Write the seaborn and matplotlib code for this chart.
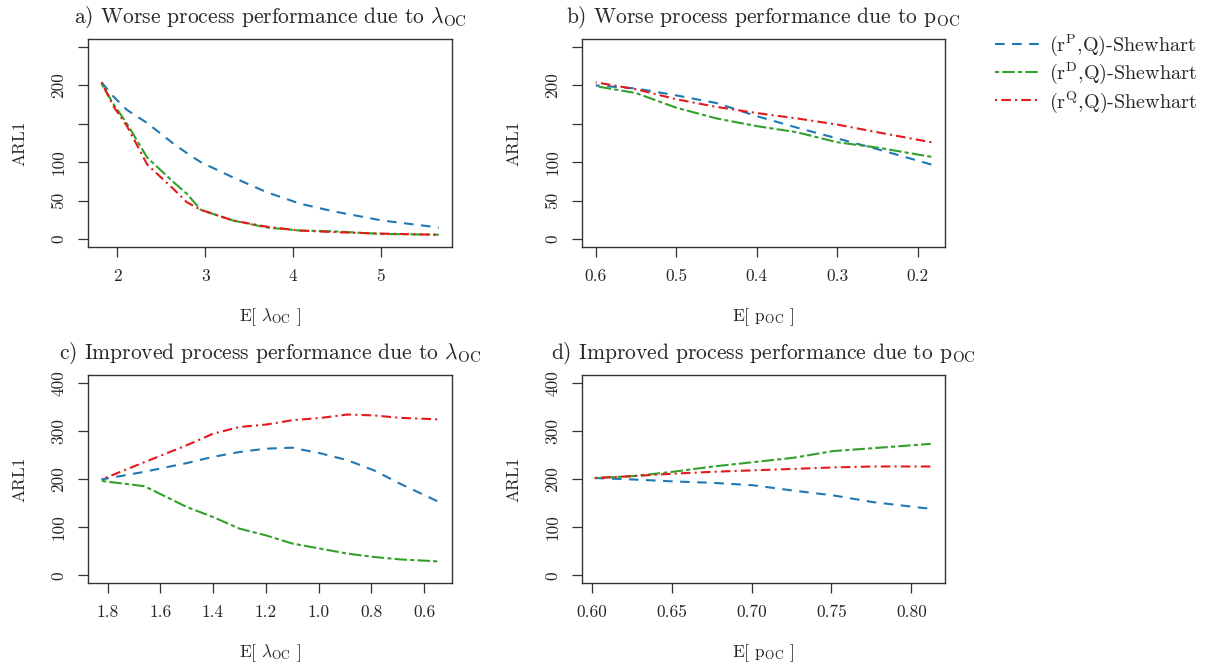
import numpy as np
import pandas as pd
import seaborn as sns
import matplotlib.pyplot as plt
from matplotlib.lines import Line2D

sns.set_style("white")
plt.rcParams['font.family'] = ['cmr10', 'DejaVu Serif']
plt.rcParams['mathtext.fontset'] = 'cm'
plt.rcParams['axes.formatter.use_mathtext'] = True
plt.rcParams['axes.unicode_minus'] = False

charts = ['(r$^{\\mathrm{P}}$,Q)-Shewhart', '(r$^{\\mathrm{D}}$,Q)-Shewhart', '(r$^{\\mathrm{Q}}$,Q)-Shewhart']

# a) worse performance, lambda
lam_worse = [1.82, 1.96, 2.11, 2.34, 2.64, 2.79, 2.95, 3.32, 3.70, 4.08, 4.46, 5.02, 5.66]
arl_a_P = [204, 185, 168, 151, 124, 112, 100, 80, 61, 46, 36, 24, 15]
arl_a_D = [202, 175, 150, 106, 74, 59, 38, 24, 15, 11, 10, 6.5, 5.6]
arl_a_Q = [204, 172, 147, 97, 65, 48, 38, 24, 16, 11, 9, 7, 5.5]

# b) worse performance, p
p_worse = [0.60, 0.55, 0.50, 0.45, 0.40, 0.35, 0.30, 0.25, 0.183]
arl_b_P = [200, 196, 187, 177, 160, 145, 131, 117, 97]
arl_b_D = [199, 190, 171, 157, 147, 139, 126, 119, 107]
arl_b_Q = [204, 195, 182, 172, 164, 157, 149, 139, 126]

# c) improved performance, lambda
lam_better = [1.823, 1.66, 1.50, 1.40, 1.30, 1.20, 1.10, 0.99, 0.89, 0.79, 0.69, 0.55]
arl_c_P = [199, 215, 233, 246, 256, 263, 265, 253, 239, 218, 190, 154]
arl_c_D = [196, 185, 142, 121, 97, 83, 66, 55, 45, 38, 33, 29]
arl_c_Q = [199, 235, 270, 294, 308, 313, 322, 327, 334, 332, 327, 324]

# d) improved performance, p
p_better = [0.602, 0.626, 0.651, 0.676, 0.701, 0.726, 0.751, 0.776, 0.812]
arl_d_P = [202, 199, 195, 192, 187, 176, 166, 152, 138]
arl_d_D = [202, 206, 215, 226, 235, 244, 258, 264, 273]
arl_d_Q = [202, 206, 211, 215, 218, 221, 224, 226, 226]

colors = ['#1F78B4', '#33A02C', '#E31A1C']
dash_map = {charts[0]: (4.6, 3.6),
            charts[1]: (2, 1.5, 6, 1.5),
            charts[2]: (1, 2, 4.6, 2)}
pal = dict(zip(charts, colors))


def long_df(x, P, D, Q):
    parts = []
    for name, y in zip(charts, [P, D, Q]):
        parts.append(pd.DataFrame({'x': x, 'ARL1': y, 'chart': name}))
    return pd.concat(parts, ignore_index=True)


W, H = 1217, 668
fig = plt.figure(figsize=(W / 100, H / 100), dpi=100)


def make_ax(l, r, t, b):
    return fig.add_axes([l / W, 1 - b / H, (r - l) / W, (b - t) / H])


lab_lam = r'E[ $\lambda_{\mathrm{OC}}$ ]'
lab_p = r'E[ $\mathrm{p}_{\mathrm{OC}}$ ]'

panels = [
    (make_ax(88, 452, 39, 247), long_df(lam_worse, arl_a_P, arl_a_D, arl_a_Q),
     r'a) Worse process performance due to $\lambda_{\mathrm{OC}}$', lab_lam,
     (1.666, 5.81), [2, 3, 4, 5], ['2', '3', '4', '5'], 'top'),
    (make_ax(582, 945, 39, 247), long_df(p_worse, arl_b_P, arl_b_D, arl_b_Q),
     r'b) Worse process performance due to $\mathrm{p}_{\mathrm{OC}}$', lab_p,
     (0.617, 0.166), [0.6, 0.5, 0.4, 0.3, 0.2], ['0.6', '0.5', '0.4', '0.3', '0.2'], 'top'),
    (make_ax(88, 452, 375, 583), long_df(lam_better, arl_c_P, arl_c_D, arl_c_Q),
     r'c) Improved process performance due to $\lambda_{\mathrm{OC}}$', lab_lam,
     (1.874, 0.494), [1.8, 1.6, 1.4, 1.2, 1.0, 0.8, 0.6],
     ['1.8', '1.6', '1.4', '1.2', '1.0', '0.8', '0.6'], 'bottom'),
    (make_ax(582, 945, 375, 583), long_df(p_better, arl_d_P, arl_d_D, arl_d_Q),
     r'd) Improved process performance due to $\mathrm{p}_{\mathrm{OC}}$', lab_p,
     (0.594, 0.821), [0.60, 0.65, 0.70, 0.75, 0.80],
     ['0.60', '0.65', '0.70', '0.75', '0.80'], 'bottom'),
]

for ax, df, title, xlab, xlim, xt, xtl, row in panels:
    sns.lineplot(data=df, x='x', y='ARL1', hue='chart', style='chart',
                 palette=pal, dashes=dash_map, linewidth=1.5, estimator=None,
                 legend=False, ax=ax)
    ax.set_xlim(*xlim)
    ax.set_xticks(xt)
    ax.set_xticklabels(xtl)
    if row == 'top':
        ax.set_ylim(-10.4, 260.4)
        ax.set_yticks([0, 50, 100, 150, 200, 250])
        ax.set_yticklabels(['0', '50', '100', '', '200', ''])
    else:
        ax.set_ylim(-16, 416)
        ax.set_yticks([0, 100, 200, 300, 400])
        ax.set_yticklabels(['0', '100', '200', '300', '400'])
    for lbl in ax.get_yticklabels():
        lbl.set_rotation(90)
        lbl.set_va('center')
    ax.tick_params(direction='out', length=7.5, width=0.9, color='#333333',
                   labelsize=12.5, pad=8, bottom=True, left=True)
    for s in ax.spines.values():
        s.set_color('#333333')
        s.set_linewidth(1.0)
    ax.set_title(title, fontsize=15.5, pad=12)
    ax.set_xlabel(xlab, fontsize=12.5, labelpad=16)
    ax.set_ylabel('ARL1', fontsize=12.5, labelpad=17)

# legend
handles = [Line2D([], [], color=c, lw=1.5, dashes=dash_map[n]) for n, c in zip(charts, colors)]
fig.legend(handles, charts, loc='upper left', bbox_to_anchor=(995 / W, 1 - 32 / H),
           frameon=False, fontsize=14.5, handlelength=2.2, handletextpad=0.5,
           labelspacing=0.14, borderpad=0, borderaxespad=0)

fig.savefig('out.png', dpi=100)
